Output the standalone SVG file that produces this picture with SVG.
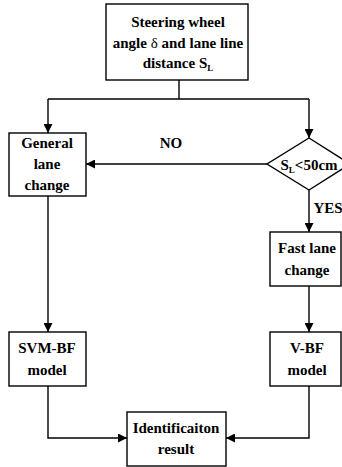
<svg xmlns="http://www.w3.org/2000/svg" width="342" height="467" viewBox="0 0 342 467">
  <style>
    .box { fill: #ffffff; stroke: #000000; stroke-width: 1.4; }
    .wire { fill: none; stroke: #000000; stroke-width: 1.4; }
    text { font-family: "Liberation Serif", "Times New Roman", serif; font-weight: bold; font-size: 15px; fill: #000000; text-anchor: middle; }
    .sub { font-size: 9px; }
  </style>
  <defs>
    <marker id="arrow" viewBox="0 0 10 10" refX="10" refY="5" markerWidth="10" markerHeight="9" markerUnits="userSpaceOnUse" orient="auto">
      <path d="M0,0 L10,5 L0,10 Z" fill="#000000"/>
    </marker>
  </defs>
  <rect width="342" height="467" fill="#ffffff"/>

  <g id="connectors">
    <polyline class="wire" points="179,80 179,99"/>
    <polyline class="wire" points="48,99 309,99"/>
    <polyline class="wire" points="48,99 48,133" marker-end="url(#arrow)"/>
    <polyline class="wire" points="309,99 309,138" marker-end="url(#arrow)"/>
    <polyline class="wire" points="267,164 86,164" marker-end="url(#arrow)"/>
    <polyline class="wire" points="309,190 309,232" marker-end="url(#arrow)"/>
    <polyline class="wire" points="48,196 48,332" marker-end="url(#arrow)"/>
    <polyline class="wire" points="309,286 309,332" marker-end="url(#arrow)"/>
    <polyline class="wire" points="48,386 48,438 127,438" marker-end="url(#arrow)"/>
    <polyline class="wire" points="309,386 309,438 226,438" marker-end="url(#arrow)"/>
    <text x="171" y="148">NO</text>
    <text x="328" y="213">YES</text>
  </g>

  <g id="input">
    <rect class="box" x="106" y="4" width="142" height="76"/>
    <text x="178" y="27">Steering wheel</text>
    <text x="178" y="48">angle <tspan font-weight="normal">δ</tspan> and lane line</text>
    <text x="178" y="68">distance S<tspan class="sub" dy="3">L</tspan></text>
  </g>

  <g id="decision">
    <polygon class="box" points="309,138 350,164 309,190 267,164"/>
    <text x="309" y="170">S<tspan class="sub" dy="3">L</tspan><tspan dy="-3">&lt;50cm</tspan></text>
  </g>

  <g id="general-lane-change">
    <rect class="box" x="9" y="133" width="77" height="63"/>
    <text x="47" y="148">General</text>
    <text x="47" y="169">lane</text>
    <text x="47" y="190">change</text>
  </g>

  <g id="fast-lane-change">
    <rect class="box" x="270" y="232" width="71" height="54"/>
    <text x="307" y="253">Fast lane</text>
    <text x="307" y="275">change</text>
  </g>

  <g id="svm-bf-model">
    <rect class="box" x="9" y="332" width="77" height="54"/>
    <text x="47" y="353">SVM-BF</text>
    <text x="47" y="375">model</text>
  </g>

  <g id="v-bf-model">
    <rect class="box" x="270" y="332" width="71" height="54"/>
    <text x="307" y="353">V-BF</text>
    <text x="307" y="375">model</text>
  </g>

  <g id="identification-result">
    <rect class="box" x="127" y="412" width="99" height="54"/>
    <text x="176" y="433">Identificaiton</text>
    <text x="176" y="454">result</text>
  </g>
</svg>
